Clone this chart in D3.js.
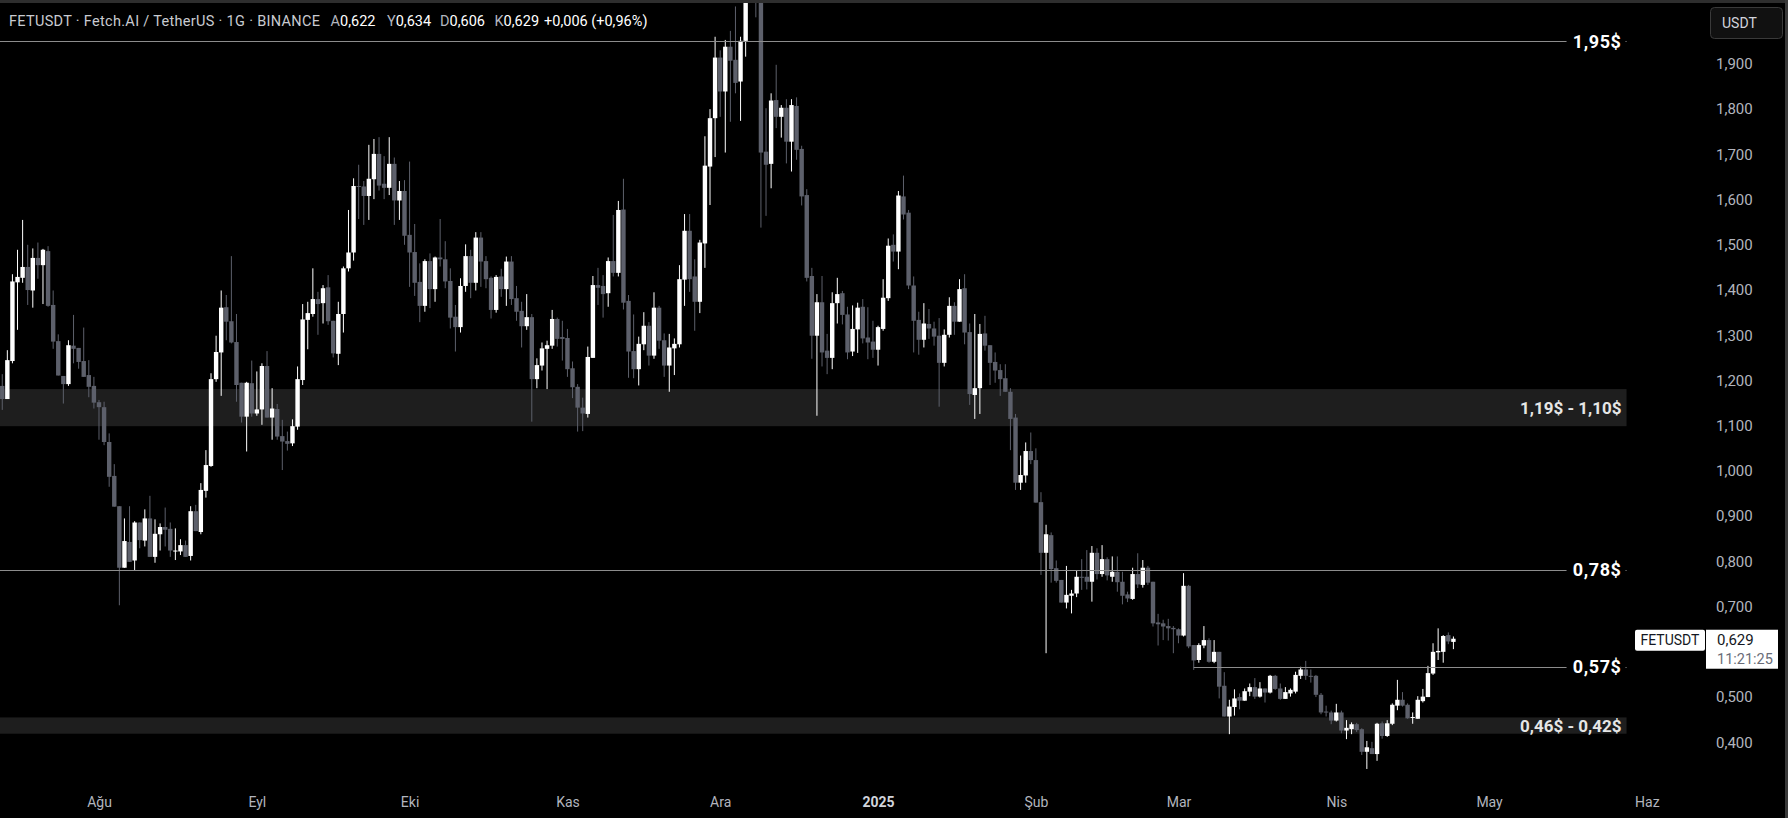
<!DOCTYPE html>
<html>
<head>
<meta charset="utf-8">
<script src="https://cdn.jsdelivr.net/npm/d3@7"></script>
<style>
  html, body { margin: 0; padding: 0; background: #000; }
  svg { display: block; font-family: Roboto, "Noto Sans", sans-serif; }
</style>
</head>
<body>
<svg id="chart" width="1788" height="818"></svg>
<script>
// FETUSDT günlük mumlar : 13 Tem 2024 -> 24 Nis 2025
const firstDay = "2024-07-13";

const open = [
  1.188,1.159,1.243,1.417,1.427,1.451,1.399,1.471,1.455,1.486,1.367,1.287,1.210,1.192,1.277,1.272,1.243,1.212,1.188,1.152,
  1.141,1.064,0.989,0.922,0.786,0.843,0.802,0.886,0.846,0.895,0.810,0.860,0.876,0.872,0.822,0.822,0.836,0.812,0.911,0.865,
  0.956,1.011,1.203,1.262,1.362,1.331,1.285,1.195,1.120,1.194,1.127,1.136,1.232,1.118,1.137,1.077,1.066,1.061,1.098,1.201,
  1.334,1.347,1.380,1.371,1.406,1.332,1.259,1.347,1.448,1.483,1.630,1.629,1.608,1.645,1.701,1.635,1.626,1.679,1.598,1.619,
  1.522,1.484,1.418,1.365,1.464,1.402,1.472,1.468,1.420,1.341,1.318,1.409,1.475,1.416,1.516,1.464,1.427,1.356,1.430,1.402,
  1.463,1.382,1.354,1.320,1.340,1.203,1.233,1.270,1.277,1.336,1.296,1.294,1.227,1.186,1.140,1.126,1.250,1.411,1.409,1.393,
  1.464,1.438,1.578,1.376,1.265,1.225,1.280,1.321,1.255,1.361,1.289,1.233,1.271,1.280,1.423,1.531,1.430,1.374,1.503,1.673,
  1.780,1.914,1.839,1.938,1.909,1.861,1.951,2.070,2.160,2.120,1.706,1.679,1.820,1.783,1.803,1.728,1.807,1.712,1.610,1.431,
  1.299,1.373,1.266,1.250,1.371,1.393,1.346,1.264,1.313,1.363,1.295,1.286,1.268,1.314,1.382,1.500,1.485,1.607,1.571,1.410,
  1.334,1.290,1.325,1.315,1.299,1.239,1.301,1.365,1.330,1.404,1.307,1.168,1.183,1.304,1.278,1.241,1.223,1.205,1.175,1.118,
  0.974,0.990,1.044,1.024,0.931,0.819,0.858,0.785,0.759,0.709,0.724,0.729,0.766,0.766,0.755,0.819,0.772,0.805,0.766,0.777,
  0.755,0.727,0.717,0.772,0.748,0.786,0.755,0.665,0.663,0.657,0.653,0.650,0.636,0.746,0.615,0.582,0.614,0.626,0.578,0.600,
  0.525,0.457,0.478,0.500,0.492,0.512,0.522,0.501,0.519,0.510,0.547,0.519,0.496,0.508,0.512,0.547,0.561,0.547,0.547,0.505,
  0.468,0.466,0.448,0.466,0.426,0.429,0.440,0.429,0.379,0.387,0.374,0.442,0.414,0.441,0.481,0.494,0.483,0.455,0.452,0.491,
  0.500,0.552,0.599,0.600,0.637,0.622
];
const high = [
  1.214,1.267,1.435,1.489,1.555,1.500,1.492,1.505,1.491,1.497,1.399,1.302,1.210,1.289,1.345,1.272,1.317,1.245,1.208,1.157,
  1.153,1.083,1.015,0.922,0.895,0.922,0.889,0.886,0.915,0.945,0.893,0.884,0.919,0.886,0.873,0.849,0.846,0.922,0.925,0.973,
  1.046,1.216,1.299,1.399,1.389,1.475,1.347,1.195,1.197,1.244,1.220,1.238,1.265,1.183,1.148,1.113,1.087,1.114,1.231,1.369,
  1.374,1.448,1.396,1.411,1.433,1.332,1.374,1.452,1.577,1.647,1.677,1.641,1.721,1.734,1.738,1.696,1.738,1.693,1.641,1.643,
  1.684,1.546,1.459,1.468,1.481,1.474,1.557,1.508,1.448,1.367,1.426,1.501,1.489,1.528,1.528,1.475,1.430,1.433,1.447,1.474,
  1.475,1.409,1.374,1.391,1.347,1.249,1.284,1.288,1.356,1.339,1.332,1.314,1.242,1.192,1.162,1.275,1.431,1.449,1.433,1.472,
  1.566,1.597,1.646,1.389,1.346,1.297,1.351,1.329,1.395,1.365,1.304,1.303,1.293,1.455,1.568,1.568,1.468,1.511,1.740,1.800,
  1.960,1.930,1.953,1.973,2.027,1.960,2.120,2.250,2.220,2.150,1.802,1.835,1.898,1.809,1.822,1.822,1.826,1.719,1.623,1.449,
  1.391,1.431,1.303,1.395,1.427,1.398,1.363,1.366,1.372,1.380,1.362,1.332,1.321,1.424,1.514,1.523,1.619,1.653,1.577,1.430,
  1.352,1.371,1.358,1.330,1.338,1.313,1.384,1.373,1.424,1.435,1.326,1.347,1.325,1.343,1.278,1.262,1.236,1.236,1.183,1.126,
  1.034,1.063,1.085,1.050,0.953,0.881,0.864,0.802,0.759,0.790,0.737,0.779,0.805,0.825,0.834,0.829,0.836,0.809,0.811,0.811,
  0.777,0.733,0.786,0.818,0.803,0.790,0.755,0.684,0.671,0.673,0.657,0.652,0.774,0.748,0.615,0.619,0.657,0.630,0.626,0.600,
  0.555,0.494,0.517,0.508,0.519,0.530,0.542,0.533,0.519,0.549,0.549,0.530,0.522,0.519,0.556,0.567,0.580,0.561,0.549,0.509,
  0.481,0.470,0.485,0.470,0.449,0.444,0.443,0.431,0.403,0.401,0.443,0.446,0.449,0.486,0.538,0.511,0.486,0.466,0.502,0.518,
  0.569,0.619,0.652,0.637,0.643,0.634
];
const low = [
  1.135,1.159,1.238,1.312,1.416,1.367,1.361,1.425,1.369,1.363,1.270,1.211,1.149,1.188,1.238,1.226,1.208,1.163,1.138,1.069,
  1.057,0.965,0.921,0.703,0.786,0.799,0.781,0.829,0.833,0.810,0.797,0.824,0.833,0.810,0.803,0.814,0.810,0.802,0.867,0.860,
  0.941,1.009,1.197,1.166,1.289,1.282,1.153,1.107,1.043,1.120,1.122,1.102,1.118,1.069,1.069,1.002,1.045,1.055,1.091,1.190,
  1.269,1.341,1.301,1.326,1.323,1.251,1.234,1.306,1.441,1.465,1.557,1.544,1.555,1.601,1.620,1.601,1.610,1.544,1.555,1.500,
  1.407,1.387,1.329,1.352,1.360,1.374,1.452,1.404,1.315,1.264,1.306,1.396,1.382,1.399,1.407,1.404,1.337,1.350,1.385,1.365,
  1.367,1.332,1.273,1.312,1.109,1.183,1.222,1.181,1.270,1.275,1.244,1.208,1.161,1.087,1.088,1.118,1.250,1.367,1.339,1.363,
  1.430,1.430,1.357,1.206,1.205,1.189,1.267,1.233,1.248,1.270,1.208,1.175,1.212,1.273,1.365,1.396,1.310,1.349,1.449,1.588,
  1.694,1.783,1.704,1.772,1.835,1.774,1.916,2.050,2.003,1.538,1.564,1.625,1.758,1.737,1.680,1.662,1.688,1.587,1.419,1.248,
  1.122,1.231,1.214,1.225,1.326,1.324,1.247,1.254,1.261,1.282,1.247,1.250,1.233,1.310,1.376,1.463,1.446,1.556,1.402,1.262,
  1.257,1.273,1.292,1.277,1.142,1.231,1.295,1.301,1.330,1.280,1.146,1.115,1.126,1.266,1.190,1.195,1.166,1.175,1.046,0.958,
  0.958,0.974,1.015,0.930,0.770,0.597,0.753,0.753,0.709,0.696,0.685,0.721,0.737,0.738,0.711,0.760,0.766,0.758,0.755,0.733,
  0.705,0.710,0.715,0.741,0.742,0.748,0.656,0.614,0.626,0.625,0.597,0.619,0.634,0.608,0.560,0.576,0.608,0.576,0.575,0.497,
  0.457,0.418,0.459,0.473,0.492,0.502,0.496,0.499,0.488,0.508,0.516,0.494,0.496,0.501,0.508,0.540,0.538,0.532,0.500,0.462,
  0.457,0.440,0.446,0.420,0.407,0.418,0.423,0.372,0.341,0.374,0.359,0.408,0.412,0.438,0.471,0.479,0.452,0.441,0.452,0.488,
  0.500,0.549,0.582,0.576,0.617,0.606
];
const close = [
  1.159,1.245,1.419,1.429,1.451,1.400,1.471,1.455,1.489,1.365,1.286,1.211,1.192,1.278,1.270,1.241,1.208,1.186,1.151,1.141,
  1.064,0.987,0.921,0.786,0.845,0.799,0.886,0.847,0.895,0.810,0.861,0.876,0.870,0.824,0.824,0.836,0.810,0.911,0.867,0.958,
  1.013,1.203,1.263,1.361,1.330,1.284,1.190,1.120,1.195,1.127,1.136,1.232,1.118,1.138,1.076,1.065,1.060,1.099,1.203,1.335,
  1.349,1.380,1.369,1.404,1.331,1.260,1.347,1.448,1.483,1.630,1.628,1.608,1.646,1.701,1.631,1.626,1.679,1.598,1.619,1.520,
  1.483,1.416,1.365,1.464,1.402,1.472,1.468,1.419,1.339,1.318,1.409,1.475,1.416,1.516,1.463,1.424,1.356,1.429,1.402,1.463,
  1.380,1.352,1.320,1.340,1.203,1.234,1.271,1.278,1.336,1.292,1.292,1.225,1.185,1.140,1.127,1.252,1.411,1.405,1.391,1.464,
  1.438,1.577,1.372,1.264,1.225,1.281,1.321,1.255,1.361,1.288,1.233,1.273,1.281,1.424,1.531,1.424,1.374,1.505,1.675,1.780,
  1.914,1.839,1.938,1.907,1.858,1.951,2.070,2.160,2.120,1.704,1.677,1.819,1.783,1.803,1.728,1.809,1.710,1.607,1.427,1.299,
  1.373,1.262,1.250,1.371,1.391,1.345,1.262,1.314,1.361,1.293,1.284,1.268,1.318,1.383,1.498,1.485,1.609,1.567,1.410,1.332,
  1.290,1.326,1.315,1.297,1.239,1.301,1.365,1.330,1.402,1.306,1.170,1.183,1.303,1.277,1.239,1.222,1.203,1.175,1.115,0.974,
  0.991,1.044,1.024,0.930,0.819,0.860,0.783,0.757,0.709,0.726,0.729,0.766,0.764,0.755,0.819,0.772,0.805,0.769,0.777,0.754,
  0.724,0.718,0.772,0.749,0.786,0.753,0.663,0.661,0.656,0.652,0.650,0.636,0.746,0.612,0.581,0.615,0.626,0.578,0.600,0.523,
  0.457,0.479,0.497,0.492,0.513,0.522,0.501,0.519,0.510,0.547,0.518,0.496,0.511,0.516,0.549,0.561,0.547,0.546,0.505,0.466,
  0.466,0.448,0.466,0.426,0.432,0.440,0.427,0.379,0.389,0.374,0.441,0.414,0.442,0.483,0.494,0.481,0.453,0.456,0.494,0.501,
  0.553,0.600,0.602,0.635,0.623,0.629
];

const monthTicks = ["2024-08-01","2024-09-01","2024-10-01","2024-11-01","2024-12-01","2025-01-01",
                    "2025-02-01","2025-03-01","2025-04-01","2025-05-01","2025-06-01"];
const monthLabels = ["Ağu","Eyl","Eki","Kas","Ara","2025","Şub","Mar","Nis","May","Haz"];
const priceTicks = [0.4,0.5,0.6,0.7,0.8,0.9,1.0,1.1,1.2,1.3,1.4,1.5,1.6,1.7,1.8,1.9];

// yatay seviyeler ve bölgeler
const levelPrices = [1.95, 0.781, 0.567];
const levelLabels = ["1,95$", "0,78$", "0,57$"];
const levelFrom = ["2024-07-10", "2024-07-10", "2025-03-04"];
const zoneTop = [1.181, 0.455];
const zoneBottom = [1.099, 0.419];
const zoneLabels = ["1,19$ - 1,10$", "0,46$ - 0,42$"];
const drawEnd = "2025-05-28";

const symbolTitle = "FETUSDT · Fetch.AI / TetherUS · 1G · BINANCE";
const countdown = "11:21:25";

const W = 1788, H = 818;
const upColor = "#ffffff", downColor = "#5d606b";

const svg = d3.select("#chart");
svg.append("rect").attr("width", W).attr("height", H).attr("fill", "#000");

const day0 = new Date(firstDay);
const dates = open.map((o, i) => d3.utcDay.offset(day0, i));
const candles = dates.map((d, i) => ({ date: d, o: open[i], h: high[i], l: low[i], c: close[i] }));

const x = d3.scaleUtc()
  .domain([day0, new Date("2025-06-01")])
  .range([2.25, 1646.9]);
const y = d3.scaleLinear()
  .domain([0.4, 1.9])
  .range([742.3, 63.9]);

const fmt = v => d3.format(".3f")(v).replace(".", ",");

svg.append("clipPath").attr("id", "pane")
  .append("rect").attr("x", 0).attr("y", 3).attr("width", 1705).attr("height", 780);

const pane = svg.append("g").attr("clip-path", "url(#pane)");

// bölgeler
const xEnd = x(new Date(drawEnd));
pane.selectAll("rect.zone")
  .data(zoneTop)
  .enter()
  .append("rect")
  .attr("class", "zone")
  .attr("x", 0)
  .attr("y", d => y(d))
  .attr("width", xEnd)
  .attr("height", (d, i) => y(zoneBottom[i]) - y(d))
  .attr("fill", "#1e1e1e");

// mumlar
const bw = 4.4;
const cg = pane.append("g");
cg.selectAll("line.wick")
  .data(candles)
  .enter()
  .append("line")
  .attr("x1", d => x(d.date)).attr("x2", d => x(d.date))
  .attr("y1", d => y(d.h)).attr("y2", d => y(d.l))
  .attr("stroke", d => d.c >= d.o ? upColor : downColor)
  .attr("stroke-width", 1);
cg.selectAll("rect.body")
  .data(candles)
  .enter()
  .append("rect")
  .attr("x", d => x(d.date) - bw / 2)
  .attr("y", d => y(Math.max(d.o, d.c)))
  .attr("width", bw)
  .attr("height", d => Math.max(1, Math.abs(y(d.o) - y(d.c))))
  .attr("fill", d => d.c >= d.o ? upColor : downColor);

// seviye çizgileri
pane.selectAll("line.level")
  .data(levelPrices)
  .enter()
  .append("line")
  .attr("x1", (d, i) => Math.max(0, x(new Date(levelFrom[i]))))
  .attr("x2", xEnd)
  .attr("y1", d => Math.round(y(d)) + 0.5)
  .attr("y2", d => Math.round(y(d)) + 0.5)
  .attr("stroke", "#8c8c8c")
  .attr("stroke-width", 1);

// seviye etiketleri (siyah zeminli)
const lab = svg.append("g")
  .attr("font-weight", "bold")
  .attr("fill", "#ffffff");
levelPrices.forEach((p, i) => {
  lab.append("rect")
    .attr("x", xEnd - 60).attr("y", y(p) - 11)
    .attr("width", 59).attr("height", 22)
    .attr("fill", "#000");
  lab.append("text")
    .attr("x", xEnd - 5).attr("y", y(p))
    .attr("dy", "0.35em")
    .attr("text-anchor", "end")
    .attr("font-size", 18)
    .attr("letter-spacing", 0.6)
    .text(levelLabels[i]);
});
zoneTop.forEach((t, i) => {
  lab.append("text")
    .attr("x", xEnd - 5).attr("y", (y(t) + y(zoneBottom[i])) / 2)
    .attr("dy", "0.35em")
    .attr("text-anchor", "end")
    .attr("font-size", 17)
    .attr("fill", "#e6e6e6")
    .text(zoneLabels[i]);
});

// son fiyat etiketinin konumu (altında kalan eksen etiketi gizlenir)
const last = candles[candles.length - 1];
const prev = candles[candles.length - 2];
const ly = y(last.c);
const axisTicks = priceTicks.filter(v => y(v) < ly - 18 || y(v) > ly + 38);

// fiyat ekseni
const yAxis = svg.append("g")
  .attr("transform", "translate(1716,0)")
  .call(d3.axisRight(y).tickValues(axisTicks).tickSize(0).tickPadding(0).tickFormat(fmt));
yAxis.select(".domain").remove();
yAxis.selectAll("text")
  .attr("fill", "#b2b5be")
  .attr("font-size", 15)
  .attr("font-family", "Roboto, sans-serif");

// zaman ekseni
const xAxis = svg.append("g")
  .attr("transform", "translate(0,797)")
  .call(d3.axisBottom(x)
    .tickValues(monthTicks.map(d => new Date(d)))
    .tickSize(0).tickPadding(0)
    .tickFormat((d, i) => monthLabels[i]));
xAxis.select(".domain").remove();
xAxis.selectAll("text")
  .attr("fill", (d, i) => monthLabels[i] === "2025" ? "#d1d4dc" : "#b2b5be")
  .attr("font-weight", (d, i) => monthLabels[i] === "2025" ? "bold" : "normal")
  .attr("font-size", 14)
  .attr("font-family", "Roboto, sans-serif");

// son fiyat etiketi
const tag = svg.append("g").attr("font-size", 14);
tag.append("rect").attr("x", 1635).attr("y", ly - 9).attr("width", 70).attr("height", 21)
  .attr("rx", 2).attr("fill", "#ffffff");
tag.append("text").attr("x", 1670).attr("y", ly + 6.5).attr("text-anchor", "middle")
  .attr("fill", "#131722").text("FETUSDT");
tag.append("rect").attr("x", 1706).attr("y", ly - 9).attr("width", 72).attr("height", 39)
  .attr("fill", "#ffffff");
tag.append("text").attr("x", 1717).attr("y", ly + 6).attr("fill", "#131722")
  .attr("font-size", 15).text(fmt(last.c));
tag.append("text").attr("x", 1717).attr("y", ly + 25).attr("fill", "#6a6d78")
  .attr("font-size", 14.5).text(countdown);

// USDT düğmesi
svg.append("rect").attr("x", 1710.5).attr("y", 7.5).attr("width", 72).attr("height", 31)
  .attr("rx", 4).attr("fill", "#111111").attr("stroke", "#3a3a3a");
svg.append("text").attr("x", 1722).attr("y", 28).attr("fill", "#d1d4dc")
  .attr("font-size", 14).text("USDT");

// başlık
const change = last.c - prev.c;
const pct = change / prev.c * 100;
const head = svg.append("g").attr("font-size", 14.5);
head.append("text").attr("x", 9).attr("y", 26).attr("fill", "#c9cbd1")
  .attr("textLength", 311).attr("lengthAdjust", "spacing")
  .text(symbolTitle);
const ohlc = [["A", last.o, 330.6], ["Y", last.h, 387], ["D", last.l, 440], ["K", last.c, 494.5]];
ohlc.forEach(([k, v, px]) => {
  const t = head.append("text").attr("x", px).attr("y", 26);
  t.append("tspan").attr("fill", "#b2b5be").text(k);
  t.append("tspan").attr("fill", "#ffffff").text(fmt(v));
});
head.append("text").attr("x", 544).attr("y", 26).attr("fill", "#ffffff")
  .text("+" + fmt(change) + " (+" + pct.toFixed(2).replace(".", ",") + "%)");

// kenarlar
svg.append("line").attr("x1", 0).attr("x2", W).attr("y1", 1.5).attr("y2", 1.5)
  .attr("stroke", "#2e2e2e").attr("stroke-width", 3);
svg.append("line").attr("x1", W - 1.5).attr("x2", W - 1.5).attr("y1", 0).attr("y2", H)
  .attr("stroke", "#3a3a3a").attr("stroke-width", 3);
</script>
</body>
</html>
